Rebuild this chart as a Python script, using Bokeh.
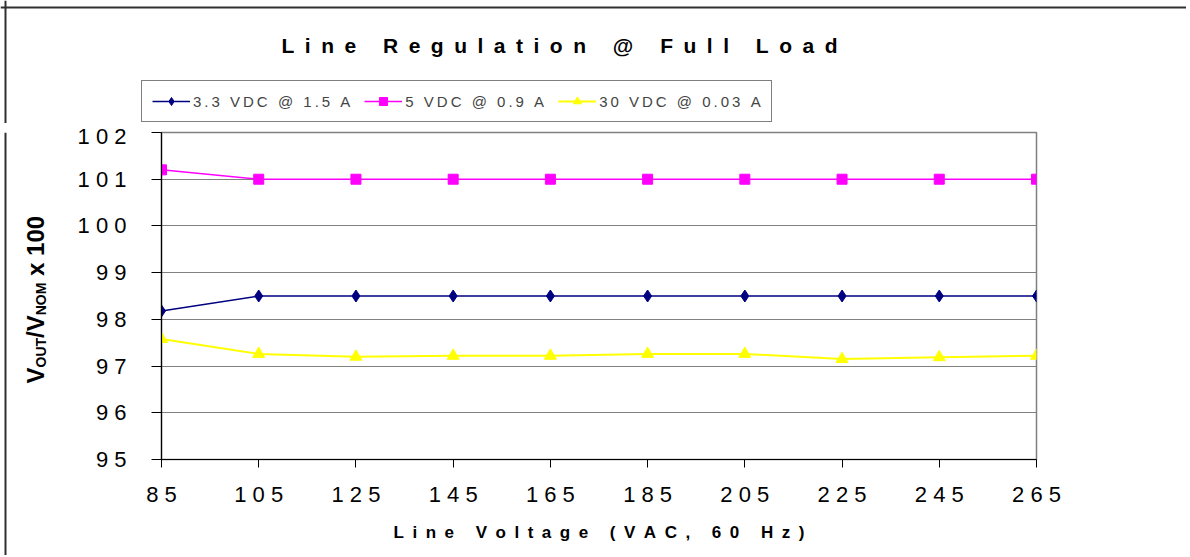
from bokeh.plotting import figure
from bokeh.layouts import row, column
from bokeh.models import (Range1d, FixedTicker, Legend, LegendItem, Label, Span)
from bokeh.embed import file_html
from bokeh.resources import INLINE
from math import pi

# ---- data ----
line_voltage = [85, 105, 125, 145, 165, 185, 205, 225, 245, 265]
v33 = [98.18, 98.5, 98.5, 98.5, 98.5, 98.5, 98.5, 98.5, 98.5, 98.5]
v5 = [101.2, 101.0, 101.0, 101.0, 101.0, 101.0, 101.0, 101.0, 101.0, 101.0]
v30 = [97.58, 97.26, 97.2, 97.22, 97.22, 97.26, 97.26, 97.15, 97.19, 97.22]
series_names = ["3.3 VDC @ 1.5 A", "5 VDC @ 0.9 A", "30 VDC @ 0.03 A"]
y_ticks = [95, 96, 97, 98, 99, 100, 101, 102]
title_text = "Line Regulation @ Full Load"
x_title = "Line Voltage (VAC, 60 Hz)"

FONT = "Liberation Sans"
EN = "\u2002"
THIN = "\u2009"
COLORS = ["#000080", "#FF00FF", "#FFFF00"]
MARKERS = ["diamond", "square", "triangle"]
MSIZE = [12, 10, 12]
LW = [1.5, 1.5, 2]
series = [v33, v5, v30]


def spaced(s, sep=" "):
    return sep.join(list(s))


TOTAL_W, TOTAL_H = 1186, 555
TOP_H = 123            # strip with title + legend
YW = 66                # strip with the y-axis title
PW = TOTAL_W - YW
PH = TOTAL_H - TOP_H
FRAME_L, FRAME_T, FW, FH = 161, 132, 875, 327
BORDER = "#303030"


def blank(width, height, xr, yr):
    f = figure(width=width, height=height, output_backend="svg",
               toolbar_location=None, x_range=xr, y_range=yr,
               min_border_left=0, min_border_right=0, min_border_top=0,
               min_border_bottom=0, frame_width=width, frame_height=height)
    f.axis.visible = False
    f.grid.visible = False
    f.outline_line_color = None
    f.background_fill_color = "white"
    f.border_fill_color = "white"
    return f


# ---- main plot ----
p = figure(width=PW, height=PH, output_backend="svg", toolbar_location=None,
           x_range=Range1d(85, 265), y_range=Range1d(95, 102),
           min_border_left=FRAME_L - YW, min_border_right=PW - (FRAME_L - YW) - FW,
           min_border_top=FRAME_T - TOP_H,
           min_border_bottom=PH - (FRAME_T - TOP_H) - FH,
           frame_width=FW, frame_height=FH)
p.outline_line_color = "#808080"
p.outline_line_width = 1.5
p.background_fill_color = "white"
p.border_fill_color = "white"

p.xaxis.ticker = FixedTicker(ticks=line_voltage)
p.xaxis.major_label_overrides = {v: spaced(str(v)) for v in line_voltage}
p.yaxis.ticker = FixedTicker(ticks=y_ticks)
p.yaxis.major_label_overrides = {v: spaced(str(v)) for v in y_ticks}
for ax in (p.xaxis[0], p.yaxis[0]):
    ax.axis_line_color = "black"
    ax.axis_line_width = 1.2
    ax.major_tick_line_color = "black"
    ax.major_tick_in = 0
    ax.minor_tick_line_color = None
    ax.major_label_text_font = FONT
    ax.major_label_text_font_size = "22px"
    ax.major_label_text_color = "black"
p.xaxis.major_tick_out = 8
p.yaxis.major_tick_out = 10
p.xaxis.major_label_standoff = 14
p.yaxis.major_label_standoff = 25

p.xaxis.axis_label = spaced(x_title, EN)
p.xaxis.axis_label_text_font = FONT
p.xaxis.axis_label_text_font_size = "17px"
p.xaxis.axis_label_text_font_style = "bold"
p.xaxis.axis_label_text_color = "black"
p.xaxis.axis_label_standoff = 13

p.xgrid.grid_line_color = None
p.ygrid.grid_line_color = "#808080"
p.ygrid.grid_line_width = 1.2

for ys, c, m, s, lw in zip(series, COLORS, MARKERS, MSIZE, LW):
    p.line(line_voltage, ys, line_color=c, line_width=lw)
    p.scatter(line_voltage, ys, marker=m, size=s, fill_color=c, line_color=c)

# ---- top strip: title + legend (page pixel coordinates) ----
top = blank(TOTAL_W, TOP_H, Range1d(0, TOTAL_W), Range1d(TOP_H, 0))
top.extra_y_ranges = {"proxy": Range1d(0, 1)}
items = []
for name, ys, c, m, s, lw in zip(series_names, series, COLORS, MARKERS, MSIZE, LW):
    rl = top.line(line_voltage, ys, line_color=c, line_width=lw, y_range_name="proxy")
    rm = top.scatter(line_voltage, ys, marker=m, size=s, fill_color=c, line_color=c,
                     y_range_name="proxy")
    items.append(LegendItem(label=spaced(name, THIN), renderers=[rl, rm]))

legend = Legend(items=items, orientation="horizontal", location=(141, 1),
                label_text_font=FONT, label_text_font_size="15px",
                glyph_width=38, glyph_height=20, label_standoff=3, spacing=14,
                padding=10, margin=0, border_line_color="black", border_line_width=1,
                background_fill_color="white", background_fill_alpha=1)
top.add_layout(legend, "center")

top.add_layout(Label(x=559, y=45, text=spaced(title_text, EN), text_align="center",
                     text_baseline="alphabetic", text_font=FONT,
                     text_font_size="21px", text_font_style="bold",
                     text_color="black"))
top.add_layout(Span(location=5, dimension="height", line_color=BORDER, line_width=2))
top.add_layout(Span(location=7, dimension="width", line_color=BORDER, line_width=2))

# ---- left strip: composed y-axis title (page pixel coordinates) ----
yf = blank(YW, PH, Range1d(0, YW), Range1d(TOTAL_H, TOP_H))
yf.add_layout(Span(location=5, dimension="height", line_color=BORDER, line_width=2))

widths = {"V": 667, "O": 778, "U": 722, "T": 611, "/": 278, "N": 722, "M": 833,
          " ": 278, "x": 556, "1": 556, "0": 556}
pieces = [("V", 24, 0, 0), ("OUT", 14, 1, 0), ("/V", 24, 0, 0), ("NOM", 14, 1, 0),
          ("x 100", 24, 0, 1)]
base_x = 35
sub_shift = 5
y_pos = 374
for txt, fs, sub, lead_space in pieces:
    y_pos -= lead_space * widths[" "] / 1000 * fs
    yf.add_layout(Label(x=base_x + (sub_shift if sub else 0), y=y_pos, angle=pi / 2,
                        text=txt, text_align="left", text_baseline="alphabetic",
                        text_font=FONT, text_font_size=f"{fs}px",
                        text_font_style="bold", text_color="black"))
    y_pos -= sum(widths[c] for c in txt) / 1000 * fs

layout = column(top, row(yf, p))

open("out.html", "w").write(file_html(layout, INLINE))
